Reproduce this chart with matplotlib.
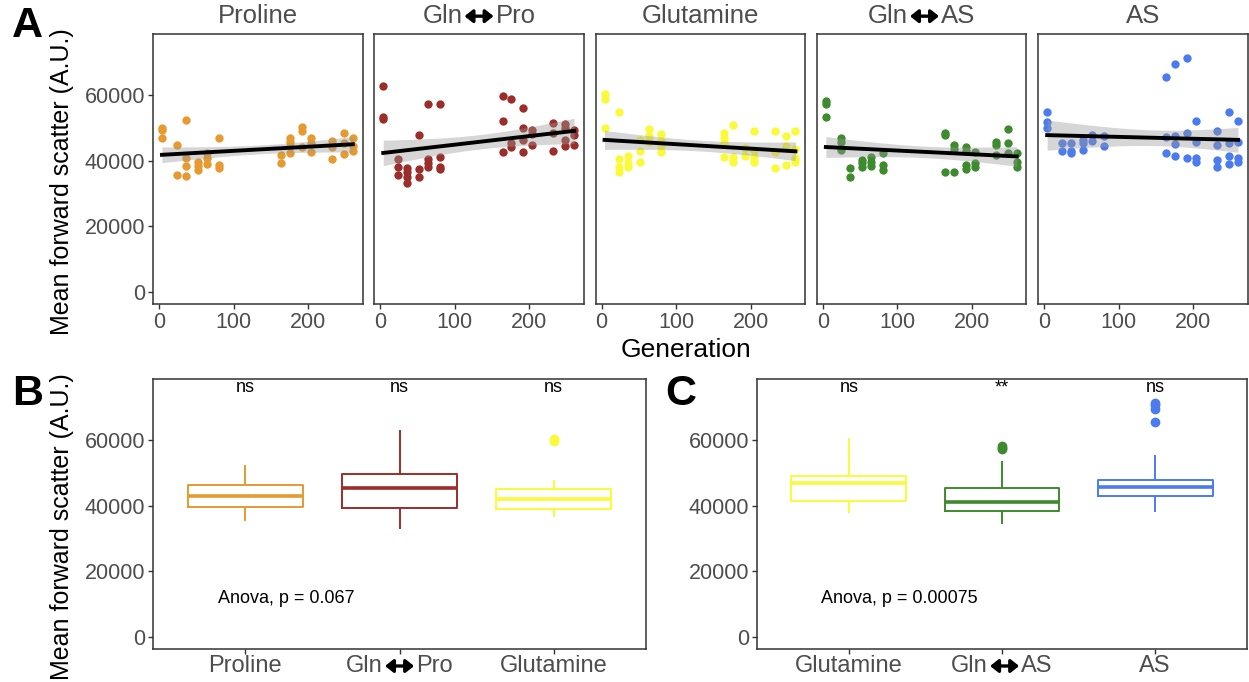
import numpy as np
import matplotlib
matplotlib.use("Agg")
import matplotlib.pyplot as plt
from matplotlib.transforms import offset_copy

plt.rcParams["font.family"] = ["Liberation Sans", "DejaVu Sans"]

W, H = 1249, 682

GENERATIONS = [4, 24, 36, 52, 64, 80, 164, 176, 192, 204, 232, 248, 260]

# mean forward scatter per generation, one inner list per sampled generation
proline = [
    [50000, 49300, 46800], [44600, 35600], [52200, 40700, 38400, 35400],
    [39500, 38400, 37200], [42400, 40700, 38900], [46800, 38700, 37900],
    [41700, 39400], [46800, 45800, 44300, 42400], [50300, 49000, 44100],
    [46800, 45300, 42700], [46000, 44000, 40500], [48500, 45300, 42000],
    [46800, 44300, 43000],
]
gln_pro = [
    [62800, 53200, 52600], [40400, 38200, 35600], [37900, 36600, 35100, 33100],
    [47700, 37400, 35100], [57300, 40500, 39400, 38000], [57300, 41200, 38200, 37400],
    [59500, 52100, 42700], [58800, 45300, 44000], [56000, 50000, 46300, 42600],
    [49300, 48100, 44800], [51400, 48300, 43000], [51200, 49800, 46300, 44300],
    [49300, 47800, 44800],
]
glutamine = [
    [60200, 58800, 50000], [54800, 40500, 38200, 36400], [41500, 39200, 38000],
    [46300, 42900, 39700], [49600, 47500, 45800], [48100, 46000, 44500, 42500],
    [48500, 46800, 45300, 41200], [50900, 41200, 39700], [43800, 41400],
    [49000, 43200, 41200, 39700], [49000, 42700, 37900], [47500, 44300, 38700],
    [49000, 43400, 40900, 39500],
]
gln_as = [
    [58200, 57300, 53200], [46800, 45800, 43200], [37700, 34900],
    [40200, 39200, 38200], [41200, 39700, 38400], [42400, 38700, 37200],
    [48500, 47700, 36400], [44600, 43500, 36400], [44100, 43000, 38700, 37400],
    [42700, 39400, 38200], [45800, 44800, 41700], [49600, 45500, 42400],
    [42400, 39700, 38200],
]
as_only = [
    [54900, 51600, 50000], [45500, 42900], [45500, 42900, 42400],
    [46300, 45300, 43200], [47700, 46000], [47500, 44300],
    [65400, 47300, 42200], [69400, 47500, 45100, 41500], [71200, 48500, 40700],
    [51900, 45800, 40900, 39700], [49100, 44600, 40200, 38200],
    [54900, 45500, 41400, 39000], [51900, 45800, 40700, 39700],
]

ARROW = "<->"
FACETS = ["Proline", f"Gln{ARROW}Pro", "Glutamine", f"Gln{ARROW}AS", "AS"]
FACET_DATA = [proline, gln_pro, glutamine, gln_as, as_only]
COLORS = {
    "Proline": "#E69A30",
    f"Gln{ARROW}Pro": "#9B2D2A",
    "Glutamine": "#FAFA3A",
    f"Gln{ARROW}AS": "#3E8A2E",
    "AS": "#4B7BEE",
}

# box statistics for panels B and C
B_GROUPS = ["Proline", f"Gln{ARROW}Pro", "Glutamine"]
B_Q1 = [39600, 39300, 39000]
B_MED = [42800, 45300, 42000]
B_Q3 = [46300, 49600, 45100]
B_LO = [35500, 33200, 36700]
B_HI = [52100, 62800, 47600]
B_FLIERS = [[], [], [59500, 60200]]
B_SIG = ["ns", "ns", "ns"]
B_ANOVA = "Anova, p = 0.067"

C_GROUPS = ["Glutamine", f"Gln{ARROW}AS", "AS"]
C_Q1 = [41300, 38300, 42800]
C_MED = [46900, 41100, 45800]
C_Q3 = [49100, 45300, 47900]
C_LO = [38000, 34700, 38300]
C_HI = [60200, 53200, 55000]
C_FLIERS = [[], [58000, 57600, 57200], [71300, 70600, 69400, 65400]]
C_SIG = ["ns", "**", "ns"]
C_ANOVA = "Anova, p = 0.00075"

YLIM = (-3600, 78500)
YTICKS = [0, 20000, 40000, 60000]
TICK_COLOR = "#4D4D4D"
SPINE_COLOR = "#333333"
PT = 72 / 100  # points per pixel


def px_axes(fig, left, top, right, bottom):
    return fig.add_axes([left / W, 1 - bottom / H, (right - left) / W, (bottom - top) / H])


def text_width(fig, s, size):
    t = fig.text(0, 0, s, fontsize=size)
    w = t.get_window_extent(fig.canvas.get_renderer()).width
    t.remove()
    return w


def label(fig, ax, transform, x, y, s, size, dy=0):
    """Category label; a '<->' inside it is drawn as a heavy black arrow."""
    if ARROW not in s:
        tr = offset_copy(transform, fig=fig, x=0, y=dy * PT, units="points")
        ax.text(x, y, s, transform=tr, ha="center", va="center", fontsize=size,
                color=TICK_COLOR, clip_on=False)
        return
    left, right = s.split(ARROW)
    aw, gap = 33, 0
    wl = text_width(fig, left, size)
    wr = text_width(fig, right, size)
    total = wl + gap + aw + gap + wr
    c = -total / 2 + wl + gap + aw / 2

    def shifted(px):
        return offset_copy(transform, fig=fig, x=px * PT, y=dy * PT, units="points")

    ax.text(x, y, left, transform=shifted(c - aw / 2 - gap), ha="right", va="center",
            fontsize=size, color=TICK_COLOR, clip_on=False)
    ax.text(x, y, right, transform=shifted(c + aw / 2 + gap), ha="left", va="center",
            fontsize=size, color=TICK_COLOR, clip_on=False)
    ax.annotate("", xy=(x, y), xycoords=shifted(c + aw / 2 - 2),
                xytext=(x, y), textcoords=shifted(c - aw / 2 + 2),
                annotation_clip=False,
                arrowprops=dict(arrowstyle="<|-|>,head_length=0.4,head_width=0.32",
                                mutation_scale=12, color="black", lw=2.4,
                                shrinkA=0, shrinkB=0))


def style_axes(ax, show_y=True):
    for side in ax.spines.values():
        side.set_color(SPINE_COLOR)
        side.set_linewidth(1.1)
    ax.tick_params(colors=SPINE_COLOR, labelcolor=TICK_COLOR, labelsize=15.5,
                   length=3.5, width=1.0, pad=2)
    ax.set_ylim(*YLIM)
    ax.set_yticks(YTICKS)
    if not show_y:
        ax.tick_params(axis="y", left=False, labelleft=False)


def draw_facet(fig, ax, name, data):
    x = np.concatenate([[g] * len(v) for g, v in zip(GENERATIONS, data)])
    y = np.concatenate(data).astype(float)
    ax.scatter(x, y, s=36, color=COLORS[name], linewidths=0, zorder=2)

    slope, intercept = np.polyfit(x, y, 1)
    xs = np.linspace(x.min(), x.max(), 100)
    fit = slope * xs + intercept
    n = len(x)
    resid = y - (slope * x + intercept)
    s = np.sqrt(np.sum(resid ** 2) / (n - 2))
    se = s * np.sqrt(1 / n + (xs - x.mean()) ** 2 / np.sum((x - x.mean()) ** 2))
    ax.fill_between(xs, fit - 2.02 * se, fit + 2.02 * se, color="#999999",
                    alpha=0.4, linewidth=0, zorder=3)
    ax.plot(xs, fit, color="black", linewidth=2.8, zorder=4)

    ax.set_xlim(-8, 273)
    ax.set_xticks([0, 100, 200])
    label(fig, ax, ax.transAxes, 0.5, 1.066, name, 18.5)


def draw_boxes(fig, ax, groups, q1, med, q3, lo, hi, fliers, sig, anova):
    pos = np.arange(1, len(groups) + 1)
    for i, g in enumerate(groups):
        c = COLORS[g]
        st = {"q1": q1[i], "med": med[i], "q3": q3[i],
              "whislo": lo[i], "whishi": hi[i], "fliers": fliers[i]}
        ax.bxp([st], positions=[pos[i]], widths=0.75, showcaps=False,
               boxprops=dict(color=c, linewidth=1.4),
               medianprops=dict(color=c, linewidth=2.6),
               whiskerprops=dict(color=c, linewidth=1.4),
               flierprops=dict(marker="o", markerfacecolor=c, markeredgecolor=c,
                               markersize=6))
        ax.text(pos[i], 75800, sig[i], ha="center", va="center", fontsize=13)
        label(fig, ax, ax.get_xaxis_transform(), pos[i], 0, g, 17, dy=-17)
    ax.text(0.82, 11700, anova, ha="left", va="center", fontsize=13)
    ax.set_xlim(0.4, len(groups) + 0.6)
    ax.set_xticks(pos)
    ax.set_xticklabels([])


fig = plt.figure(figsize=(W / 100, H / 100), dpi=100)

left, width, step = 153, 209.5, 221.3
for i, (name, data) in enumerate(zip(FACETS, FACET_DATA)):
    l = left + i * step
    ax = px_axes(fig, l, 34, l + width, 304)
    style_axes(ax, show_y=(i == 0))
    draw_facet(fig, ax, name, data)

fig.text(686 / W, 1 - 350 / H, "Generation", ha="center", va="center", fontsize=19)
fig.text(62 / W, 1 - 182 / H, "Mean forward scatter (A.U.)", rotation=90,
         ha="center", va="center", fontsize=18)

ax_b = px_axes(fig, 153, 379, 646, 649)
style_axes(ax_b)
draw_boxes(fig, ax_b, B_GROUPS, B_Q1, B_MED, B_Q3, B_LO, B_HI, B_FLIERS, B_SIG, B_ANOVA)
fig.text(62 / W, 1 - 527 / H, "Mean forward scatter (A.U.)", rotation=90,
         ha="center", va="center", fontsize=18)

ax_c = px_axes(fig, 757, 379, 1247, 649)
style_axes(ax_c)
draw_boxes(fig, ax_c, C_GROUPS, C_Q1, C_MED, C_Q3, C_LO, C_HI, C_FLIERS, C_SIG, C_ANOVA)

for letter, x, y in [("A", 12, 26), ("B", 12, 394), ("C", 665, 394)]:
    fig.text(x / W, 1 - y / H, letter, fontsize=31, fontweight="bold",
             ha="left", va="center")

fig.savefig("out.png", dpi=100)
